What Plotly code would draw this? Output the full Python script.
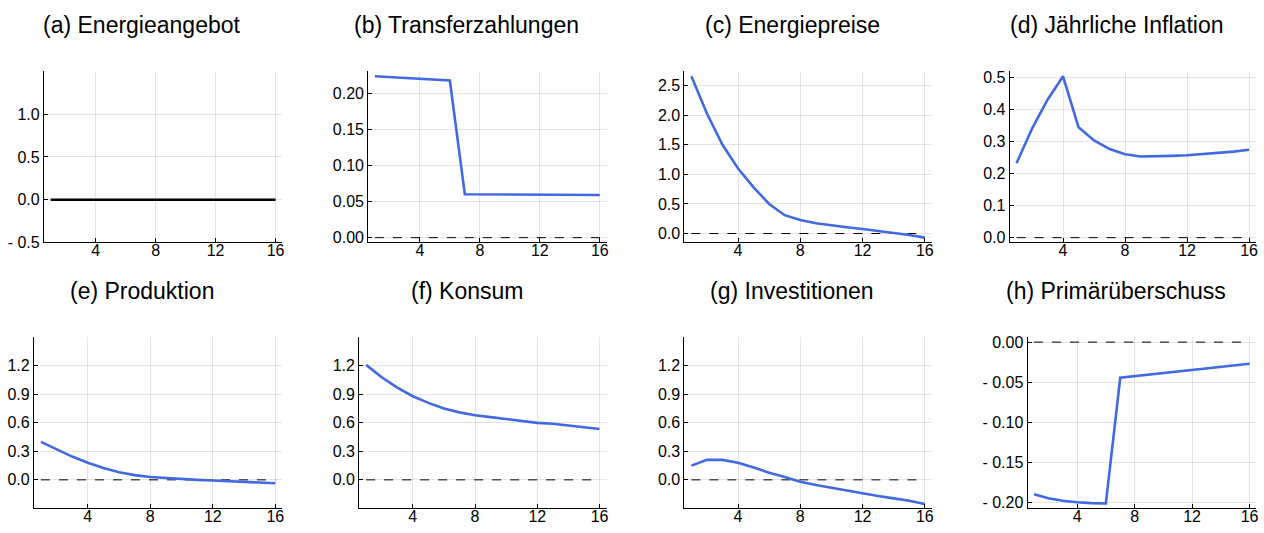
import plotly.graph_objects as go

periods = list(range(1, 17))

energy_supply = [0.0] * 16
transfers = [0.2234, 0.2222, 0.2210, 0.2198, 0.2187, 0.2175, 0.0600, 0.0599,
             0.0598, 0.0597, 0.0596, 0.0595, 0.0594, 0.0593, 0.0592, 0.0591]
energy_prices = [2.66, 2.03, 1.50, 1.10, 0.78, 0.50, 0.31, 0.23,
                 0.175, 0.135, 0.105, 0.075, 0.045, 0.015, -0.025, -0.07]
inflation = [0.232, 0.340, 0.430, 0.503, 0.344, 0.303, 0.276, 0.260,
             0.253, 0.253, 0.255, 0.257, 0.260, 0.264, 0.268, 0.274]
production = [0.40, 0.32, 0.245, 0.18, 0.125, 0.08, 0.05, 0.03,
              0.018, 0.008, 0.0, -0.007, -0.014, -0.021, -0.028, -0.035]
consumption = [1.21, 1.08, 0.97, 0.88, 0.81, 0.75, 0.71, 0.68,
               0.66, 0.64, 0.625, 0.60, 0.59, 0.57, 0.555, 0.535]
investment = [0.15, 0.21, 0.21, 0.18, 0.13, 0.075, 0.03, -0.02,
              -0.055, -0.085, -0.11, -0.145, -0.17, -0.195, -0.22, -0.255]
primary_surplus = [-0.190, -0.195, -0.198, -0.200, -0.201, -0.2015, -0.0445, -0.0425,
                   -0.0405, -0.0385, -0.0365, -0.0345, -0.0325, -0.031, -0.029, -0.027]

titles = ["(a) Energieangebot", "(b) Transferzahlungen", "(c) Energiepreise",
          "(d) Jährliche Inflation", "(e) Produktion", "(f) Konsum",
          "(g) Investitionen", "(h) Primärüberschuss"]
x_ticks = [4, 8, 12, 16]

W, H = 1264, 533
BLUE = "#4169E1"

panels = [
    dict(y=energy_supply, color="black", zero=False, lim=(-0.5, 1.5),
         ticks=[-0.5, 0.0, 0.5, 1.0], fmt="{:.1f}", box=(44, 283, 70, 245), tc=142),
    dict(y=transfers, color=BLUE, zero=True, lim=None,
         ticks=[0.0, 0.05, 0.10, 0.15, 0.20], fmt="{:.2f}", box=(369, 608, 70, 245), tc=468),
    dict(y=energy_prices, color=BLUE, zero=True, lim=None,
         ticks=[0.0, 0.5, 1.0, 1.5, 2.0, 2.5], fmt="{:.1f}", box=(686, 934, 70, 245), tc=794),
    dict(y=inflation, color=BLUE, zero=True, lim=None,
         ticks=[0.0, 0.1, 0.2, 0.3, 0.4, 0.5], fmt="{:.1f}", box=(1012, 1259, 70, 245), tc=1120),
    dict(y=production, color=BLUE, zero=True, lim=(-0.3, 1.5),
         ticks=[0.0, 0.3, 0.6, 0.9, 1.2], fmt="{:.1f}", box=(34, 283, 342, 517), tc=142),
    dict(y=consumption, color=BLUE, zero=True, lim=(-0.3, 1.5),
         ticks=[0.0, 0.3, 0.6, 0.9, 1.2], fmt="{:.1f}", box=(360, 608, 342, 517), tc=468),
    dict(y=investment, color=BLUE, zero=True, lim=(-0.3, 1.5),
         ticks=[0.0, 0.3, 0.6, 0.9, 1.2], fmt="{:.1f}", box=(686, 934, 342, 517), tc=794),
    dict(y=primary_surplus, color=BLUE, zero=True, lim=None,
         ticks=[-0.20, -0.15, -0.10, -0.05, 0.0], fmt="{:.2f}", box=(1030, 1259, 342, 517), tc=1119),
]
title_rows = [23, 23, 23, 23, 295, 295, 295, 295]


def label(v, fmt):
    s = fmt.format(abs(v))
    return ("- " + s) if v < -1e-12 else s


def auto_range(vals, zero):
    lo, hi = min(vals), max(vals)
    if zero:
        lo, hi = min(lo, 0.0), max(hi, 0.0)
    pad = 0.03 * (hi - lo)
    return [lo - pad, hi + pad]


fig = go.Figure()
layout = dict(width=W, height=H, margin=dict(l=0, r=0, t=0, b=0),
              paper_bgcolor="white", plot_bgcolor="white", showlegend=False,
              font=dict(family="Liberation Sans, Arial, sans-serif", size=16, color="black"))
annotations = []

xr = [1 - 0.03 * 15, 16 + 0.03 * 15]

for i, p in enumerate(panels):
    n = i + 1
    xa = "x" if n == 1 else f"x{n}"
    ya = "y" if n == 1 else f"y{n}"
    l, r, t, b = p["box"]
    if p["zero"]:
        fig.add_trace(go.Scatter(x=periods, y=[0.0] * len(periods), mode="lines",
                                 line=dict(color="black", width=1, dash="dash"),
                                 xaxis=xa, yaxis=ya, hoverinfo="skip"))
    fig.add_trace(go.Scatter(x=periods, y=p["y"], mode="lines",
                             line=dict(color=p["color"], width=2.6),
                             xaxis=xa, yaxis=ya))
    yr = list(p["lim"]) if p["lim"] else auto_range(p["y"], p["zero"])
    common = dict(showline=True, linecolor="black", linewidth=1, mirror=False,
                  showgrid=True, gridcolor="rgba(0,0,0,0.1)", gridwidth=1,
                  zeroline=False, ticks="inside", ticklen=4, tickcolor="black",
                  tickfont=dict(size=16, color="black"))
    layout[f"xaxis{'' if n == 1 else n}"] = dict(
        domain=[l / W, r / W], range=xr, anchor=ya, ticklabelstandoff=-7,
        tickmode="array", tickvals=x_ticks, ticktext=[str(v) for v in x_ticks], **common)
    layout[f"yaxis{'' if n == 1 else n}"] = dict(
        domain=[1 - b / H, 1 - t / H], range=yr, anchor=xa,
        tickmode="array", tickvals=p["ticks"],
        ticktext=[label(v, p["fmt"]) for v in p["ticks"]], **common)
    annotations.append(dict(text=titles[i], x=p["tc"] / W, y=1 - title_rows[i] / H,
                            xref="paper", yref="paper", xanchor="center", yanchor="middle",
                            showarrow=False, font=dict(size=23, color="black")))

layout["annotations"] = annotations
fig.update_layout(**layout)
fig.write_html("out.html", config={"displayModeBar": False},
               post_script="document.body.style.margin='0px';document.body.style.padding='0px';")
